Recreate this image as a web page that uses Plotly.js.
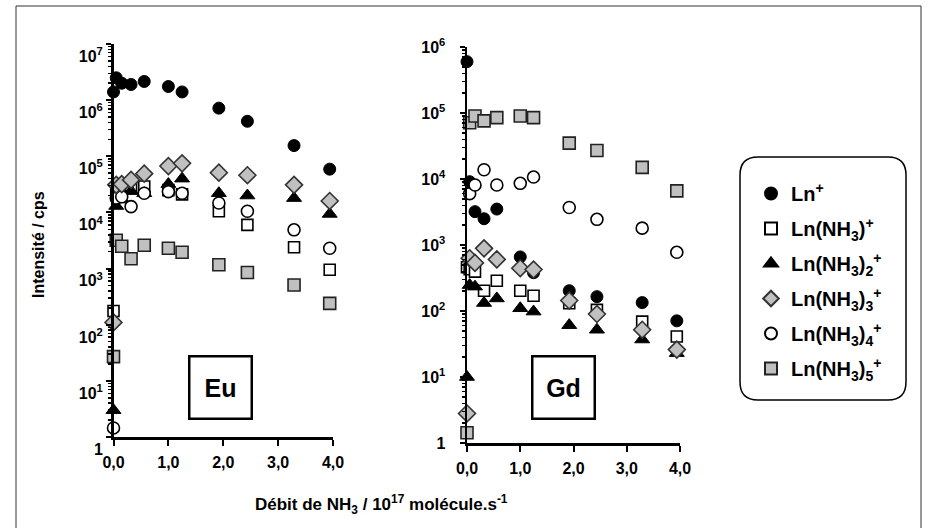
<!DOCTYPE html>
<html>
<head>
<meta charset="utf-8">
<script src="https://cdn.plot.ly/plotly-3.0.1.min.js"></script>
<style>html,body{margin:0;padding:0;background:#fff;}#chart{width:936px;height:528px;}</style>
</head>
<body>
<div id="chart"></div>
<script>
// NH3 flow (10^17 molecules/s)
var flow = [0, 0.05, 0.15, 0.32, 0.56, 1.0, 1.25, 1.92, 2.44, 3.29, 3.94];

// Eu panel intensities (cps)
var euLn   = [1.4e6, 2.5e6, 2.0e6, 1.9e6, 2.15e6, 1.75e6, 1.4e6, 7.2e5, 4.2e5, 1.55e5, 5.9e4];
var euNH3  = [175, 2.5e4, 2.6e4, 2.7e4, 2.9e4, 2.5e4, 2.1e4, 1.05e4, 6.0e3, 2.4e3, 950];
var euNH3_2 = [3, 1.3e4, 1.7e4, 2.4e4, 2.2e4, 3.2e4, 4.0e4, 2.2e4, 2.0e4, 1.8e4, 9.4e3];
var euNH3_3 = [110, 3.1e4, 3.2e4, 3.8e4, 4.9e4, 6.7e4, 7.5e4, 5.1e4, 4.6e4, 3.1e4, 1.6e4];
var euNH3_4 = [1.45, 1.8e4, 1.9e4, 1.27e4, 2.2e4, 2.35e4, 2.2e4, 1.47e4, 1.05e4, 4.9e3, 2.3e3];
var euNH3_5 = [27, 3.2e3, 2.5e3, 1.5e3, 2.6e3, 2.3e3, 1.95e3, 1.17e3, 850, 510, 240];

// Gd panel intensities (cps)
var gdLn   = [6e5, 9.1e3, 3.2e3, 2.5e3, 3.5e3, 660, 380, 203, 165, 134, 71];
var gdNH3  = [460, 430, 395, 203, 288, 203, 170, 131, 104, 69, 41];
var gdNH3_2 = [10, 247, 234, 132, 155, 110, 98, 61, 52, 37, 23];
var gdNH3_3 = [2.8, 630, 535, 890, 605, 445, 425, 144, 90, 52, 26];
var gdNH3_4 = [null, 6.0e3, 8.1e3, 1.38e4, 8.1e3, 8.6e3, 1.07e4, 3.7e3, 2.45e3, 1.8e3, 775];
var gdNH3_5 = [1.43, 7.1e4, 9e4, 7.6e4, 8.5e4, 9e4, 8.5e4, 3.5e4, 2.7e4, 1.5e4, 6.6e3];

var seriesNames = ['Ln<sup>+</sup>', 'Ln(NH<sub>3</sub>)<sup>+</sup>', 'Ln(NH<sub>3</sub>)<sub>2</sub><sup>+</sup>',
                   'Ln(NH<sub>3</sub>)<sub>3</sub><sup>+</sup>', 'Ln(NH<sub>3</sub>)<sub>4</sub><sup>+</sup>', 'Ln(NH<sub>3</sub>)<sub>5</sub><sup>+</sup>'];
var xTickVals = [0, 1, 2, 3, 4];
var xTickText = ['0,0', '1,0', '2,0', '3,0', '4,0'];

var W = 936, H = 528;
function px(x){ return x / W; }
function py(y){ return 1 - y / H; }

var styles = [
  {symbol:'circle', size:12, color:'#000000', line:{color:'#000000', width:1}},
  {symbol:'square', size:11, color:'#ffffff', line:{color:'#000000', width:1.6}},
  {symbol:'triangle-up', size:13, color:'#000000', line:{color:'#000000', width:1}},
  {symbol:'diamond', size:13, color:'#c0c0c0', line:{color:'#333333', width:1.6}},
  {symbol:'circle', size:12, color:'#ffffff', line:{color:'#000000', width:1.6}},
  {symbol:'square', size:12, color:'#c0c0c0', line:{color:'#222222', width:1.6}}
];
var euData = [euLn, euNH3, euNH3_2, euNH3_3, euNH3_4, euNH3_5];
var gdData = [gdLn, gdNH3, gdNH3_2, gdNH3_3, gdNH3_4, gdNH3_5];
var drawOrder = [5, 0, 1, 2, 4, 3];

var traces = [];
drawOrder.forEach(function(i){
  traces.push({x: flow, y: euData[i], xaxis:'x', yaxis:'y', type:'scatter', mode:'markers',
    name: seriesNames[i], legendgroup:'g'+i, legendrank: i+1, showlegend:true, cliponaxis:false,
    marker: styles[i]});
});
drawOrder.forEach(function(i){
  traces.push({x: flow, y: gdData[i], xaxis:'x2', yaxis:'y2', type:'scatter', mode:'markers',
    name: seriesNames[i], legendgroup:'g'+i, showlegend:false, cliponaxis:false,
    marker: styles[i]});
});

var FONT = 'Liberation Sans, Arial, sans-serif';
function minorVals(n){ var v=[]; for(var d=0; d<n; d++){ for(var k=2;k<=9;k++){ v.push(k*Math.pow(10,d)); } } return v; }
function yAxis(dom, n, anchor, labelPos, standoff){
  var tv=[], tt=[];
  for(var d=0; d<=n; d++){ tv.push(Math.pow(10,d)); tt.push(d===0 ? '1' : '10<sup>'+d+'</sup>'); }
  return {type:'log', domain:dom, range:[0,n], anchor:anchor, showgrid:false, zeroline:false,
    showline:true, linecolor:'#000', linewidth:2.5, ticks:'outside', ticklen:5, tickwidth:2, tickcolor:'#000',
    ticklabelposition: labelPos, ticklabelstandoff: standoff,
    tickvals:tv, ticktext:tt, tickfont:{family:FONT, size:16, color:'#000', weight:'bold'},
    minor:{tickvals:minorVals(n), ticks:'outside', ticklen:3, tickwidth:1.5, tickcolor:'#000'}};
}
function xAxis(dom, anchor){
  return {domain:dom, range:[0,4], anchor:anchor, showgrid:false, zeroline:false,
    showline:true, linecolor:'#000', linewidth:2.5, ticks:'outside', ticklen:6, tickwidth:2, tickcolor:'#000',
    ticklabelstandoff:3,
    tickvals:xTickVals, ticktext:xTickText, tickfont:{family:FONT, size:16, color:'#000', weight:'bold'}};
}

var r = 18, lx0 = 740, lx1 = 906, ly0 = 157, ly1 = 400;
function P(x,y){ return px(x)+','+py(y); }
var legendPath = 'M'+P(lx0+r,ly0)+' L'+P(lx1-r,ly0)+' Q'+P(lx1,ly0)+' '+P(lx1,ly0+r)+
  ' L'+P(lx1,ly1-r)+' Q'+P(lx1,ly1)+' '+P(lx1-r,ly1)+' L'+P(lx0+r,ly1)+' Q'+P(lx0,ly1)+' '+P(lx0,ly1-r)+
  ' L'+P(lx0,ly0+r)+' Q'+P(lx0,ly0)+' '+P(lx0+r,ly0)+' Z';

var layout = {
  width: W, height: H,
  margin:{l:0, r:0, t:0, b:0},
  paper_bgcolor:'#fff', plot_bgcolor:'rgba(0,0,0,0)',
  font:{family:FONT, color:'#000'},
  xaxis: xAxis([px(113.5), px(333)], 'y'),
  yaxis: yAxis([py(437), py(44)], 7, 'x', 'outside bottom', 5),
  xaxis2: xAxis([px(467), px(680)], 'y2'),
  yaxis2: yAxis([py(443), py(47)], 6, 'x2', 'outside', 11),
  showlegend:true,
  legend:{x:px(751), y:py(174), xanchor:'left', yanchor:'top', bgcolor:'rgba(0,0,0,0)', borderwidth:0,
    font:{family:FONT, size:20, color:'#000', weight:'bold'}, tracegroupgap:6, itemsizing:'constant'},
  shapes:[
    {type:'rect', xref:'paper', yref:'paper', x0:px(16), x1:px(921), y0:py(540), y1:py(6), line:{color:'#333', width:1}},
    {type:'path', xref:'paper', yref:'paper', path:legendPath, line:{color:'#000', width:1.5}}
  ],
  annotations:[
    {xref:'paper', yref:'paper', x:px(220.5), y:py(387), xanchor:'center', yanchor:'middle', text:'Eu', showarrow:false,
     width:58, height:58, borderwidth:2.5, bordercolor:'#000', font:{family:FONT, size:25, weight:'bold', color:'#000'}},
    {xref:'paper', yref:'paper', x:px(563.5), y:py(387), xanchor:'center', yanchor:'middle', text:'Gd', showarrow:false,
     width:58, height:58, borderwidth:2.5, bordercolor:'#000', font:{family:FONT, size:25, weight:'bold', color:'#000'}},
    {xref:'paper', yref:'paper', x:px(38), y:py(245), xanchor:'center', yanchor:'middle', text:'Intensité / cps',
     textangle:-90, showarrow:false, font:{family:FONT, size:16, weight:'bold', color:'#000'}},
    {xref:'paper', yref:'paper', x:px(381), y:py(504), xanchor:'center', yanchor:'middle',
     text:'Débit de NH<sub>3</sub> / 10<sup>17</sup> molécule.s<sup>-1</sup>',
     showarrow:false, font:{family:FONT, size:17, weight:'bold', color:'#000'}}
  ]
};

Plotly.newPlot('chart', traces, layout, {displayModeBar:false, staticPlot:true});
</script>
</body>
</html>
